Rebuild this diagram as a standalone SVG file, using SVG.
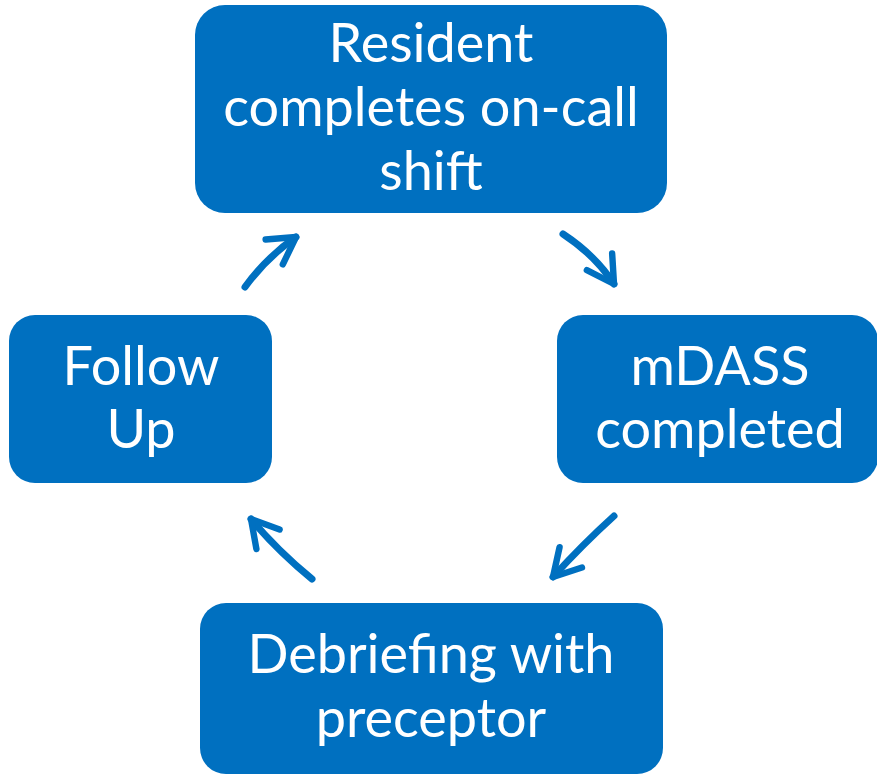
<svg xmlns="http://www.w3.org/2000/svg" width="877" height="775" viewBox="0 0 877 775">
  <defs>
    <style>
      .box { fill: #0070C0; }
      .label { fill: #ffffff; font-family: Lato, "Open Sans", "Liberation Sans", sans-serif; font-size: 54px; text-anchor: middle; }
      .conn { fill: none; stroke: #0070C0; stroke-width: 7; stroke-linecap: round; stroke-linejoin: round; }
    </style>
    <marker id="head" viewBox="0 0 10 10" refX="9" refY="5" markerWidth="5.4" markerHeight="5.4" orient="auto" markerUnits="strokeWidth">
      <path d="M2,1 L9,5 L2,9" fill="none" stroke="#0070C0" stroke-width="1.7" stroke-linecap="round" stroke-linejoin="round"/>
    </marker>
  </defs>
  <rect width="877" height="775" fill="#ffffff"/>

  <g id="connectors">
    <path class="conn" d="M563,234 Q595,255 614,284" marker-end="url(#head)"/>
    <path class="conn" d="M614,516 Q582,545 553,577" marker-end="url(#head)"/>
    <path class="conn" d="M312,579 Q277,550 251,519" marker-end="url(#head)"/>
    <path class="conn" d="M245,287 Q267,257 296,237" marker-end="url(#head)"/>
  </g>

  <g id="node-shift">
    <rect class="box" x="195" y="5" width="472" height="208" rx="30"/>
    <text class="label" x="431" y="62">Resident</text>
    <text class="label" x="431" y="126">completes on-call</text>
    <text class="label" x="431" y="190">shift</text>
  </g>

  <g id="node-mdass">
    <rect class="box" x="557" y="315" width="321" height="168" rx="26"/>
    <text class="label" x="720" y="385">mDASS</text>
    <text class="label" x="720" y="448">completed</text>
  </g>

  <g id="node-debrief">
    <rect class="box" x="200" y="603" width="463" height="171" rx="26"/>
    <text class="label" x="431" y="673">Debriefing with</text>
    <text class="label" x="431" y="737">preceptor</text>
  </g>

  <g id="node-followup">
    <rect class="box" x="9" y="315" width="263" height="168" rx="26"/>
    <text class="label" x="141" y="385">Follow</text>
    <text class="label" x="141" y="448">Up</text>
  </g>
</svg>
